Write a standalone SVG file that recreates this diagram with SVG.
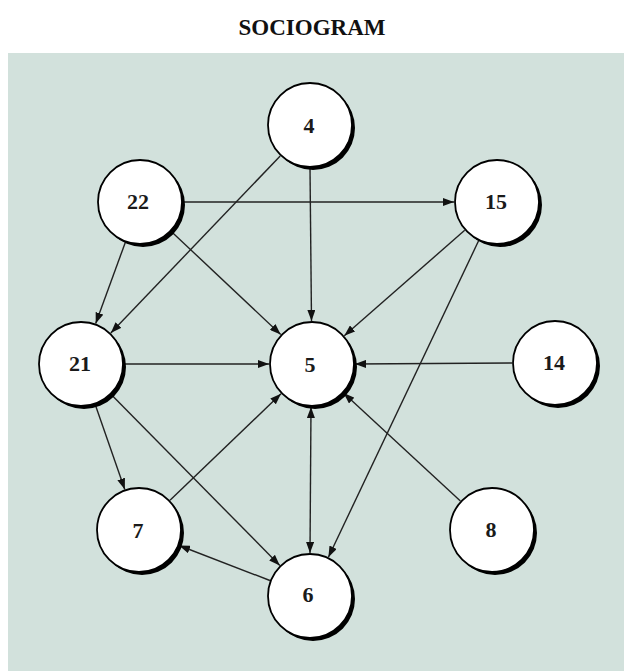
<svg xmlns="http://www.w3.org/2000/svg" width="624" height="671" viewBox="0 0 624 671">
<style>
.title{font-family:"Liberation Serif","Times New Roman",serif;font-weight:bold;font-size:23px;fill:#111;text-anchor:middle}
.lbl{font-family:"Liberation Serif","Times New Roman",serif;font-weight:bold;font-size:22px;fill:#1a1a1a;text-anchor:middle;dominant-baseline:central}
.shadow{fill:#000}
.disc{fill:#fff;stroke:#000;stroke-width:1.8}
.edge{stroke:#222;stroke-width:1.4;fill:none;marker-end:url(#arr)}
</style>
<defs>
<marker id="arr" viewBox="0 0 11 8" refX="11" refY="4" markerWidth="11" markerHeight="8" markerUnits="userSpaceOnUse" orient="auto-start-reverse">
<path d="M0,0 L11,4 L0,8 z" fill="#111"/>
</marker>
</defs>
<rect x="0" y="0" width="624" height="671" fill="#fff"/>
<rect x="8" y="53" width="616" height="618" fill="#d2e1dc"/>
<text class="title" x="312" y="35">SOCIOGRAM</text>
<g id="connectors">
<line class="edge" x1="183" y1="202" x2="454" y2="202"/>
<line class="edge" x1="125.3" y1="242.4" x2="95.7" y2="323.6"/>
<line class="edge" x1="171.3" y1="231.5" x2="280.7" y2="334.5"/>
<line class="edge" x1="280.2" y1="156" x2="110.8" y2="333"/>
<line class="edge" x1="310" y1="168" x2="311.5" y2="321"/>
<line class="edge" x1="464.7" y1="230.3" x2="344.3" y2="335.7"/>
<line class="edge" x1="478.6" y1="240.8" x2="328.4" y2="557.2"/>
<line class="edge" x1="124" y1="364" x2="269" y2="364"/>
<line class="edge" x1="512" y1="363" x2="355" y2="364"/>
<line class="edge" x1="460.4" y1="500.9" x2="343.6" y2="393.1"/>
<line class="edge" x1="95.2" y1="404.6" x2="124.8" y2="489.4"/>
<line class="edge" x1="111.2" y1="394.6" x2="279.8" y2="565.4"/>
<line class="edge" x1="170" y1="500.2" x2="281" y2="393.8"/>
<line class="edge" x1="269.9" y1="580.5" x2="179.1" y2="545.5"/>
<line class="edge" x1="311" y1="407" x2="310" y2="553" style="marker-start:url(#arr)"/>
</g>
<g id="node-4"><circle class="shadow" cx="313" cy="128" r="42"/><circle class="disc" cx="310" cy="125" r="42"/><text class="lbl" x="309" y="125">4</text></g>
<g id="node-22"><circle class="shadow" cx="143" cy="205" r="42"/><circle class="disc" cx="140" cy="202" r="42"/><text class="lbl" x="138" y="201">22</text></g>
<g id="node-15"><circle class="shadow" cx="500" cy="205" r="42"/><circle class="disc" cx="497" cy="202" r="42"/><text class="lbl" x="496" y="201">15</text></g>
<g id="node-21"><circle class="shadow" cx="84" cy="367" r="42"/><circle class="disc" cx="81" cy="364" r="42"/><text class="lbl" x="80" y="363">21</text></g>
<g id="node-5"><circle class="shadow" cx="315" cy="367" r="42"/><circle class="disc" cx="312" cy="364" r="42"/><text class="lbl" x="310" y="364">5</text></g>
<g id="node-14"><circle class="shadow" cx="558" cy="366" r="42"/><circle class="disc" cx="555" cy="363" r="42"/><text class="lbl" x="554" y="362">14</text></g>
<g id="node-7"><circle class="shadow" cx="142" cy="533" r="42"/><circle class="disc" cx="139" cy="530" r="42"/><text class="lbl" x="138" y="530">7</text></g>
<g id="node-8"><circle class="shadow" cx="495" cy="533" r="42"/><circle class="disc" cx="492" cy="530" r="42"/><text class="lbl" x="491" y="529">8</text></g>
<g id="node-6"><circle class="shadow" cx="313" cy="599" r="42"/><circle class="disc" cx="310" cy="596" r="42"/><text class="lbl" x="308" y="594">6</text></g>
</svg>
